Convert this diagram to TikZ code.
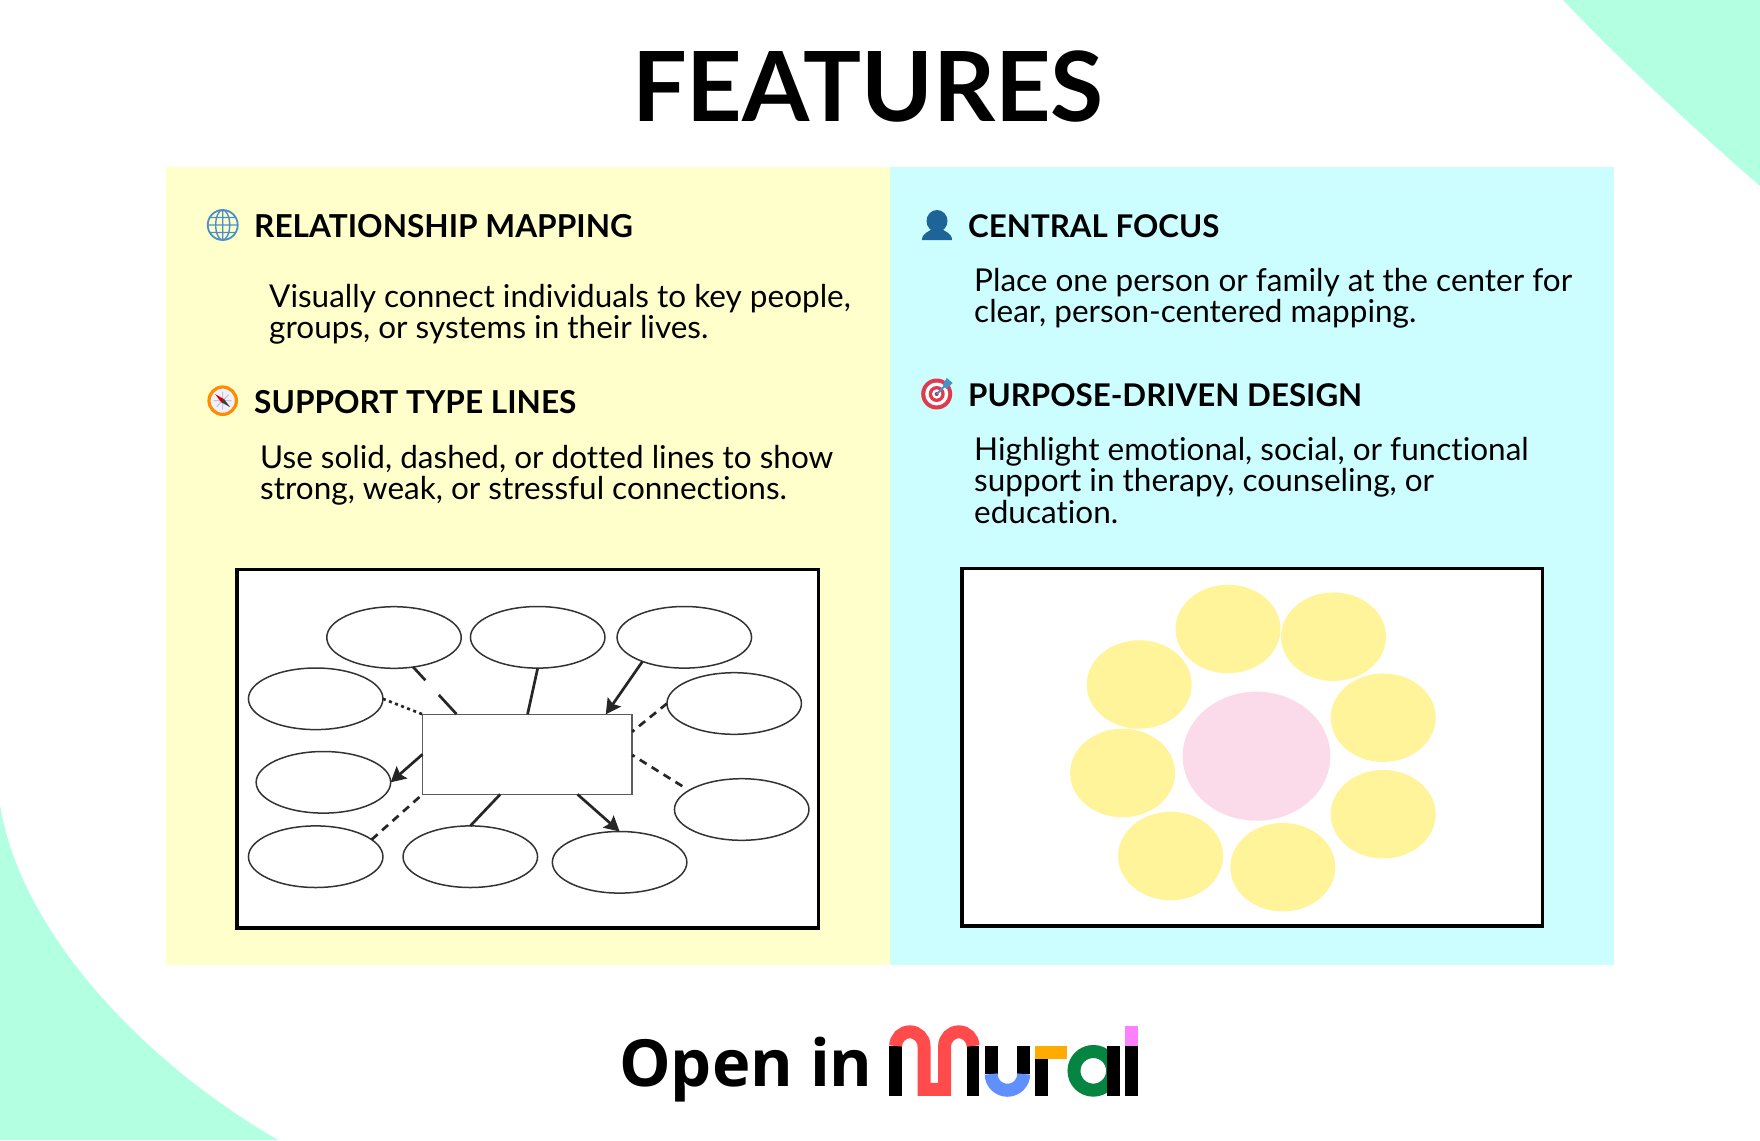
\documentclass[tikz,border=0pt]{standalone}
\usepackage{fontspec}
\setmainfont{Lato}[Ligatures=NoCommon]
\newfontfamily\openfont{Open Sans}
\usetikzlibrary{calc,arrows.meta,shapes.geometric}
\definecolor{mint}{HTML}{B2FFE1}
\definecolor{panelY}{HTML}{FFFFCC}
\definecolor{panelC}{HTML}{CCFDFF}
\definecolor{ink}{HTML}{333333}
\definecolor{softY}{HTML}{FFF499}
\definecolor{softP}{HTML}{FBDBEA}
\definecolor{mRed}{HTML}{FF4B4B}
\definecolor{mBlue}{HTML}{608FFF}
\definecolor{mOrange}{HTML}{FFAB00}
\definecolor{mGreen}{HTML}{058541}
\definecolor{mPink}{HTML}{FF80FF}
\definecolor{iconBlue}{HTML}{4A90C8}
\definecolor{personBlue}{HTML}{1F6499}
\definecolor{targetRed}{HTML}{DF3A4E}
\tikzset{
  heading/.style={anchor=base west,inner sep=0pt,font=\fontsize{31.6}{32}\selectfont\bfseries,text=black},
  headingB/.style={heading,font=\fontsize{31.3}{32}\selectfont\bfseries},
  body/.style={anchor=north west,inner sep=0pt,align=left,font=\fontsize{31.5}{31.4}\selectfont,text=black},
  oval/.style={draw=ink,line width=1.5pt,ellipse,minimum width=134.5pt,minimum height=61.6pt,inner sep=0pt,outer sep=0pt,fill=white},
  frm/.style={draw=black,line width=3.6pt,fill=white,inner sep=0pt,outer sep=0pt,anchor=north west},
  link/.style={draw=black!85,line width=2.7pt},
  tip/.style={-{Stealth[length=15pt,width=16pt,inset=2.5pt]}},
  dsh/.style={dash pattern=on 8pt off 6pt},
  dot/.style={dash pattern=on 3pt off 3.5pt},
  yc/.style={ellipse,fill=softY,minimum width=105pt,minimum height=88.5pt,inner sep=0pt},
  mk/.style={line width=13pt},
}
\begin{document}
\begin{tikzpicture}[x=1pt,y=-1pt]
\useasboundingbox (0,0) rectangle (1760,1140);
\fill[white] (0,0) rectangle (1760,1140);
% corners
\fill[mint] (1563,0) .. controls (1620,60) and (1690,125) .. (1760,186) -- (1760,0) -- cycle;
\fill[mint] (0,805) .. controls (20,930) and (140,1060) .. (278,1140) -- (0,1140) -- cycle;
% panels
\fill[panelY] (166,167) rectangle (890,965);
\fill[panelC] (890,167) rectangle (1614,965);
% title
\node[anchor=base,inner sep=0pt,font=\fontsize{96.8}{96.8}\selectfont\bfseries] (title) at (868,121) {FEATURES};
% headings
\node[heading] (h1) at (254,237) {RELATIONSHIP MAPPING};
\node[heading] (h2) at (254,413) {SUPPORT TYPE LINES};
\node[headingB] (h3) at (968,237) {CENTRAL FOCUS};
\node[headingB] (h4) at (968,406) {PURPOSE-DRIVEN DESIGN};
\node[body] (b1) at (269,284) {Visually connect individuals to key people,\\groups, or systems in their lives.};
\node[body] (b2) at (260,445) {Use solid, dashed, or dotted lines to show\\strong, weak, or stressful connections.};
\node[body] (b3) at (974,268) {Place one person or family at the center for\\clear, person-centered mapping.};
\node[body] (b4) at (974,437) {Highlight emotional, social, or functional\\support in therapy, counseling, or\\education.};
% globe icon
\begin{scope}[shift={(222.7,225)}]
\draw[iconBlue,line width=1.8pt] (0,0) circle (15);
\draw[iconBlue,line width=1.4pt] (0,0) ellipse (7 and 15) (0,-15)--(0,15) (-15,0)--(15,0) (-13,-7.5)--(13,-7.5) (-13,7.5)--(13,7.5);
\end{scope}
% compass icon
\begin{scope}[shift={(222.7,400.7)}]
\draw[draw=orange!90!yellow,fill=blue!6,line width=3.2pt] (0,0) circle (13.7);
\draw[black!30,line width=.7pt] (-9,0)--(9,0) (0,-9)--(0,9) (-6,6)--(6,-6);
\fill[red!80!black] (-7.5,-6.5) -- (1.5,-1.5) -- (-1.5,1.5) -- cycle;
\fill[black!75] (7.5,6.5) -- (1.5,-1.5) -- (-1.5,1.5) -- cycle;
\end{scope}
% person icon
\begin{scope}[shift={(937,225)}]
\fill[personBlue] (0,-4) ellipse (10.5 and 11);
\fill[personBlue] (-15,15) .. controls (-15,8) and (-8,7) .. (-4,3) -- (4,3) .. controls (8,7) and (15,8) .. (15,15) -- cycle;
\end{scope}
% target icon
\begin{scope}[shift={(936.7,394)}]
\fill[targetRed] (0,0) circle (15.5);
\fill[white] (0,0) circle (11.5);
\fill[targetRed] (0,0) circle (8);
\fill[white] (0,0) circle (4.7);
\fill[targetRed!80!black] (0,0) circle (2);
\draw[iconBlue,line width=2pt] (0,0) -- (12,-12);
\fill[iconBlue] (6,-9) -- (10,-16) -- (16,-11) -- (10,-5) -- cycle;
\end{scope}
\begin{scope}[shift={(0,1)}]
% left frame
\node[frm,minimum width=581.4pt,minimum height=358.4pt] (fL) at (237.2,568.3) {};
\node[oval] (e1) at (394,636.5) {};
\node[oval] (e2) at (537.7,636.3) {};
\node[oval] (e3) at (684.3,636.3) {};
\node[oval] (e4) at (734.2,702.5) {};
\node[oval] (e5) at (741.7,808.5) {};
\node[oval] (e6) at (315.7,697.8) {};
\node[oval] (e7) at (323.4,781.3) {};
\node[oval] (e8) at (315.7,855.7) {};
\node[oval] (e9) at (470.3,855.7) {};
\node[oval] (e10) at (619.6,861.3) {};
\node[draw=ink!80,line width=1.5pt,fill=white,anchor=north west,inner sep=0pt,outer sep=0pt,minimum width=209.7pt,minimum height=80pt] (hub) at (422.5,713.3) {};
\draw[link,dash pattern=on 18pt off 20pt on 26pt off 10pt] (e1.-57) -- ($(hub.north west)!.163!(hub.north east)$);
\draw[link] (e2.south) -- ($(hub.north west)!.501!(hub.north east)$);
\draw[link,tip] (e3.-150) -- ($(hub.north west)!.874!(hub.north east)$);
\draw[link,dsh] (e4.west) -- ($(hub.north east)!.2175!(hub.south east)$);
\draw[link,dsh,shorten <=8pt] (e5.160) -- ($(hub.north east)!.5087!(hub.south east)$);
\draw[link,dot] (e6.east) -- (hub.north west);
\draw[link,tip] (hub.west) -- (e7.east);
\draw[link,dsh] (e8.17) -- (hub.south west);
\draw[link] (e9.north) -- ($(hub.south west)!.3707!(hub.south east)$);
\draw[link,tip] ($(hub.south west)!.739!(hub.south east)$) -- (e10.north);
% right frame
\node[frm,minimum width=580.7pt,minimum height=357.5pt] (fR) at (961.8,567.5) {};
\node[yc] (y1) at (1228,628) {};
\node[yc] (y2) at (1333.5,635.7) {};
\node[yc] (y3) at (1139.2,683.5) {};
\node[yc] (y4) at (1383.2,716.7) {};
\node[yc] (y5) at (1122.6,772) {};
\node[yc] (y6) at (1383.2,813.2) {};
\node[yc] (y7) at (1170.6,855) {};
\node[yc] (y8) at (1282.8,866.2) {};
\node[ellipse,fill=softP,minimum width=147.7pt,minimum height=129pt,inner sep=0pt] (pk) at (1256.5,755.2) {};
\end{scope}
% open in
\node[anchor=base west,inner sep=0pt,font=\openfont\fontsize{65}{65}\selectfont\bfseries] (open) at (619,1086) {Open in};
% logo
\begin{scope}[shift={(860,1000)},x=0.3333pt,y=-0.3333pt]
\fill[black] (88,138) rectangle (127,288);
\fill[black] (320,138) rectangle (358,288);
\draw[mRed,mk] (107,138) arc[start angle=180,end angle=360,radius=42.5] -- (192,268) -- (254,268) -- (254,138) arc[start angle=180,end angle=360,radius=42.5];
\fill[black] (374,138) rectangle (413,222);
\fill[black] (472,138) rectangle (510,222);
\draw[mBlue,mk] (393.5,222) arc[start angle=180,end angle=0,radius=48.75];
\fill[black] (526,178) rectangle (565,288);
\fill[mOrange] (526,138) rectangle (622,178);
\draw[mGreen,mk] (700,212.5) circle (58);
\fill[black] (741,138) rectangle (780,288);
\fill[black] (796,138) rectangle (834,288);
\fill[mPink] (796,78) rectangle (834,138);
\end{scope}
\end{tikzpicture}
\end{document}
